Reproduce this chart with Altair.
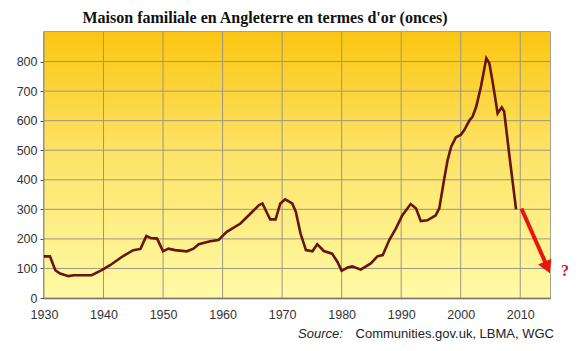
import altair as alt
import pandas as pd

years = [1930, 1931, 1931.9, 1932.7, 1934.1, 1935, 1938, 1939.7, 1941.1, 1943.3,
         1945, 1946.2, 1946.6, 1947.2, 1947.9, 1949, 1950, 1950.9, 1952, 1954,
         1955.1, 1956, 1957.9, 1959.3, 1960.7, 1963, 1964.7, 1966.1, 1966.7, 1967.5,
         1968, 1968.9, 1969.7, 1970.5, 1971.7, 1972.3, 1973.1, 1974, 1975.1, 1975.9,
         1977, 1978.4, 1979.3, 1980, 1981, 1981.8, 1983.2, 1984.9, 1986, 1986.9,
         1988, 1989.1, 1990.2, 1991.6, 1992.5, 1993.3, 1994.4, 1995.8, 1996.4, 1997.2,
         1997.8, 1998.4, 1999.2, 2000, 2000.6, 2001.5, 2002, 2002.6, 2003.4, 2004.3,
         2004.8, 2005.4, 2006.2, 2006.9, 2007.3, 2008.2, 2009.3]
ounces = [141, 141, 94, 83, 74, 77, 77, 94, 111, 142,
          162, 166, 184, 210, 203, 201, 158, 167, 162, 158,
          167, 182, 192, 196, 224, 252, 286, 314, 320, 286,
          266, 266, 320, 334, 320, 292, 218, 162, 158, 182,
          159, 150, 122, 92, 103, 107, 96, 117, 141, 145,
          196, 235, 280, 318, 303, 260, 263, 280, 303, 399,
          467, 512, 544, 552, 568, 602, 614, 647, 715, 811,
          795, 727, 625, 645, 631, 478, 300]

arrow_years = [2010.2, 2014.4]
arrow_values = [303, 112]
head_year = [2014.4]
head_value = [110]
q_year = [2017.5]
q_value = [92]

title_text = "Maison familiale en Angleterre en termes d'or (onces)"
source_label = "Source:"
source_text = "Communities.gov.uk, LBMA, WGC"
x_ticks = [1930, 1940, 1950, 1960, 1970, 1980, 1990, 2000, 2010]
y_ticks = [0, 100, 200, 300, 400, 500, 600, 700, 800]

W, H = 506, 266

df = pd.DataFrame({"year": years, "oz": ounces})
arrow_df = pd.DataFrame({"year": arrow_years, "oz": arrow_values})
head_df = pd.DataFrame({"year": head_year, "oz": head_value})
q_df = pd.DataFrame({"year": q_year, "oz": q_value, "t": ["?"]})
xgrid_df = pd.DataFrame({"year": x_ticks})
ygrid_df = pd.DataFrame({"oz": y_ticks})

xscale = alt.Scale(domain=[1930, 2015], nice=False, zero=False)
yscale = alt.Scale(domain=[0, 900], nice=False)

xaxis = alt.Axis(values=x_ticks, format="d", title=None, grid=False,
                 ticks=False, labelFont="Liberation Sans", labelFontSize=12.5,
                 labelColor="#333333", labelPadding=10, domainColor="#555555", domainWidth=1.5,
                 labelFlush=False, labelOverlap=False)
yaxis = alt.Axis(values=y_ticks, title=None, grid=False,
                 tickSize=4, tickColor="#555555", labelFont="Liberation Sans",
                 labelFontSize=12.5, labelColor="#333333", labelPadding=3, domainColor="#555555",
                 domainWidth=1.5, labelFlush=False, labelOverlap=False)

X = alt.X("year:Q", scale=xscale, axis=xaxis)
Y = alt.Y("oz:Q", scale=yscale, axis=yaxis)

bg = alt.Chart(pd.DataFrame({"a": [0]})).mark_rect(
    color=alt.Gradient(
        gradient="linear", x1=0, y1=0, x2=0, y2=1,
        stops=[alt.GradientStop(offset=0, color="#FBC612"),
               alt.GradientStop(offset=0.45, color="#FDE366"),
               alt.GradientStop(offset=1, color="#FFFAA6")]
    )
).encode(x=alt.value(0), x2=alt.value(W), y=alt.value(0), y2=alt.value(H))

xgrid = alt.Chart(xgrid_df).mark_rule(color="#9C9680", strokeWidth=1).encode(
    x=X, y=alt.value(0), y2=alt.value(H))
ygrid = alt.Chart(ygrid_df).mark_rule(color="#9C9680", strokeWidth=1).encode(
    y=Y, x=alt.value(0), x2=alt.value(W))

line = alt.Chart(df).mark_line(color="#661508", strokeWidth=2.6).encode(x=X, y=Y)

shaft = alt.Chart(arrow_df).mark_line(color="#E8160E", strokeWidth=4).encode(x=X, y=Y)

head = alt.Chart(head_df).mark_point(shape="triangle", filled=True, opacity=1,
                                     color="#E8160E", size=210, angle=156).encode(x=X, y=Y)

qmark = alt.Chart(q_df).mark_text(font="Liberation Serif", fontSize=16, fontWeight="bold",
                                  color="#D0142A", align="center",
                                  baseline="middle").encode(x=X, y=Y, text="t:N")

title = alt.Chart(pd.DataFrame({"t": [title_text]})).mark_text(
    font="Liberation Serif", fontSize=16, fontWeight="bold", color="#111111",
    align="center", baseline="middle").encode(
    x=alt.value(221), y=alt.value(-14), text="t:N")

src1 = alt.Chart(pd.DataFrame({"t": [source_label]})).mark_text(
    font="Liberation Sans", fontSize=13, fontStyle="italic", color="#222222",
    align="left", baseline="middle").encode(x=alt.value(254), y=alt.value(302), text="t:N")
src2 = alt.Chart(pd.DataFrame({"t": [source_text]})).mark_text(
    font="Liberation Sans", fontSize=13, color="#222222",
    align="right", baseline="middle").encode(x=alt.value(510), y=alt.value(302), text="t:N")

chart = alt.layer(bg, xgrid, ygrid, line, shaft, head, qmark, title, src1, src2).properties(
    width=W, height=H,
    autosize=alt.AutoSizeParams(type="none"),
    padding={"left": 44, "top": 32, "right": 37, "bottom": 53},
    background="white",
).configure_view(stroke="#8A8470", strokeWidth=1.5)

chart.save("out.html", embed_options={"renderer": "svg", "actions": False})
